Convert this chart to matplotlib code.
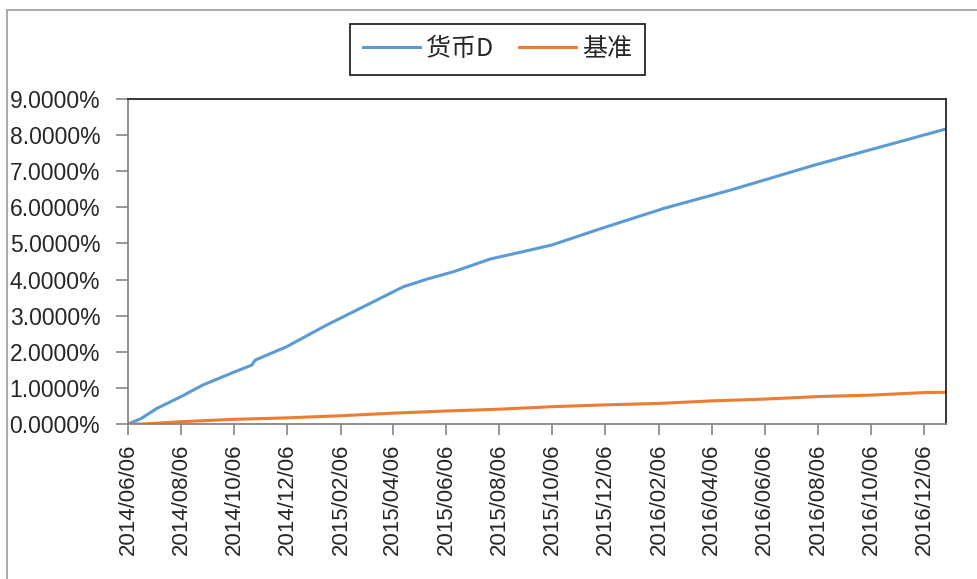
import matplotlib
matplotlib.use("Agg")
import matplotlib.pyplot as plt
import matplotlib.dates as mdates
from matplotlib.ticker import FuncFormatter, MultipleLocator
from matplotlib.lines import Line2D
import pandas as pd

# ---- data ----
fund_dates = ["2014-06-06", "2014-06-21", "2014-07-09", "2014-08-06", "2014-08-31",
              "2014-10-06", "2014-10-26", "2014-10-30", "2014-12-05", "2015-01-20",
              "2015-03-11", "2015-04-18", "2015-05-15", "2015-06-15", "2015-07-27",
              "2015-09-11", "2015-10-06", "2015-12-02", "2016-02-11", "2016-04-28",
              "2016-06-06", "2016-08-02", "2016-10-18", "2016-12-31"]
fund_values = [0.0000, 0.0015, 0.0043, 0.0076, 0.0108,
               0.0144, 0.0163, 0.0177, 0.0214, 0.0274,
               0.0334, 0.0380, 0.0401, 0.0422, 0.0457,
               0.0482, 0.0496, 0.0542, 0.0597, 0.0648,
               0.0676, 0.0717, 0.0768, 0.0817]

bench_dates = ["2014-06-06", "2014-06-23", "2014-08-06", "2014-10-06", "2014-12-06",
               "2015-02-06", "2015-04-06", "2015-06-06", "2015-08-06", "2015-10-06",
               "2015-12-06", "2016-02-06", "2016-04-06", "2016-06-06", "2016-08-06",
               "2016-10-06", "2016-12-06", "2016-12-31"]
bench_values = [0.0000, 0.0000, 0.00064, 0.0013, 0.0017,
                0.0023, 0.0030, 0.0036, 0.0041, 0.0048,
                0.0053, 0.0057, 0.0064, 0.0069, 0.0076,
                0.0080, 0.0087, 0.0088]

series_names = ["货币D", "基准"]
tick_dates = ["2014-06-06", "2014-08-06", "2014-10-06", "2014-12-06", "2015-02-06",
              "2015-04-06", "2015-06-06", "2015-08-06", "2015-10-06", "2015-12-06",
              "2016-02-06", "2016-04-06", "2016-06-06", "2016-08-06", "2016-10-06",
              "2016-12-06"]
x_start, x_end = "2014-06-06", "2016-12-31"
y_max = 0.09

# ---- figure ----
W, H = 977, 579
fig = plt.figure(figsize=(W / 100, H / 100), dpi=100)
fig.patch.set_facecolor("white")

# chart-area border (left and top edges visible)
border_col = "#a6a6a6"
fig.add_artist(Line2D([6.5 / W, 6.5 / W], [0, 1 - 9.5 / H], transform=fig.transFigure,
                      color=border_col, lw=1.3))
fig.add_artist(Line2D([6.5 / W, 1], [1 - 9.5 / H, 1 - 9.5 / H], transform=fig.transFigure,
                      color=border_col, lw=1.3))

ax = fig.add_axes([128 / W, 1 - 424 / H, (946 - 128) / W, (424 - 99) / H])

blue = "#5B9BD5"
orange = "#ED7D31"
fd = pd.to_datetime(fund_dates)
bd = pd.to_datetime(bench_dates)
ax.plot(fd, fund_values, color=blue, lw=2.2, label=series_names[0], solid_joinstyle="round")
ax.plot(bd, bench_values, color=orange, lw=2.2, label=series_names[1], solid_joinstyle="round")

ax.set_xlim(pd.Timestamp(x_start), pd.Timestamp(x_end))
ax.set_ylim(0, y_max)

ax.yaxis.set_major_locator(MultipleLocator(0.01))
ax.yaxis.set_major_formatter(FuncFormatter(lambda v, p: f"{v * 100:.4f}%"))
ax.set_xticks(pd.to_datetime(tick_dates))
ax.xaxis.set_major_formatter(mdates.DateFormatter("%Y/%m/%d"))

for lab in ax.get_yticklabels():
    lab.set_fontfamily("Liberation Sans")
    lab.set_fontsize(16.5)
for lab in ax.get_xticklabels():
    lab.set_fontfamily("Liberation Sans")
    lab.set_fontsize(16)
    lab.set_rotation(90)

axis_gray = "#868686"
ax.tick_params(axis="y", direction="out", length=9, width=1.2, color=axis_gray, pad=11,
               labelcolor="#262626")
ax.tick_params(axis="x", direction="out", length=8, width=1.2, color=axis_gray, pad=6,
               labelcolor="#262626")

for side in ["top", "right"]:
    ax.spines[side].set_color("#262626")
    ax.spines[side].set_linewidth(1.3)
for side in ["left", "bottom"]:
    ax.spines[side].set_color(axis_gray)
    ax.spines[side].set_linewidth(1.3)

leg = fig.legend(loc="center", bbox_to_anchor=(497.5 / W, 1 - 49 / H), ncol=2,
                 frameon=True, fancybox=False, edgecolor="#262626", framealpha=1,
                 prop=dict(family=["Noto Sans CJK SC", "DejaVu Sans"], size=18),
                 handlelength=2.3, handletextpad=0.25, columnspacing=1.0,
                 borderpad=0.5, borderaxespad=0)
leg.get_frame().set_linewidth(1.3)
for t in leg.get_texts():
    t.set_color("#262626")

fig.savefig("out.png", dpi=100, facecolor="white")
